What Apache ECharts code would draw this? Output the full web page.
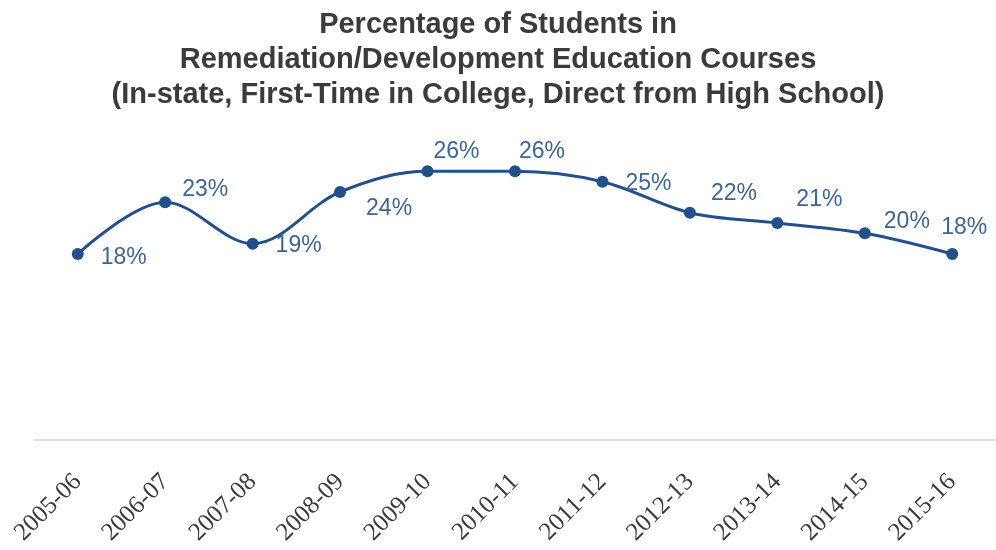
<!DOCTYPE html>
<html>
<head>
<meta charset="utf-8">
<script src="https://cdn.jsdelivr.net/npm/echarts@6/dist/echarts.min.js"></script>
<style>html,body{margin:0;padding:0;background:#fff}#c{width:996px;height:550px}</style>
</head>
<body>
<div id="c"></div>
<script>
const categories = ["2005-06","2006-07","2007-08","2008-09","2009-10","2010-11","2011-12","2012-13","2013-14","2014-15","2015-16"];
const percentValues = [18, 23, 19, 24, 26, 26, 25, 22, 21, 20, 18];
const titleLines = ["Percentage of Students in", "Remediation/Development Education Courses", "(In-state, First-Time in College, Direct from High School)"];
// label placement (styling only)
const labelOffsets = [[46,4],[40,-13],[46,2],[49,17],[29,-20],[27,-20],[46,2],[44,-19],[42,-23],[42,-12],[12,-26]];

const chart = echarts.init(document.getElementById('c'), null, {renderer:'canvas'});
chart.setOption({
  animation: false,
  backgroundColor: '#fff',
  title: {
    text: titleLines.join('\n'),
    left: 'center',
    top: 2,
    textStyle: {fontFamily: 'Liberation Sans', fontWeight: 'bold', fontSize: 29, color: '#3b3b3b', lineHeight: 35}
  },
  grid: {left: 34, top: 130, width: 965, height: 310, containLabel: false},
  xAxis: {
    type: 'category',
    data: categories,
    boundaryGap: true,
    axisLine: {show: true, lineStyle: {color: '#c6d9ec', width: 1.5}},
    axisTick: {show: false},
    axisLabel: {rotate: 45, margin: 38, fontFamily: 'Liberation Serif', fontSize: 25, color: '#3a3a3a', interval: 0}
  },
  yAxis: {type: 'value', min: 0, max: 30, show: false, splitLine: {show: false}},
  series: [{
    type: 'line',
    smooth: 0.35,
    data: percentValues.map((v, i) => ({
      value: v,
      label: {offset: labelOffsets[i]}
    })),
    symbol: 'circle',
    symbolSize: 12,
    lineStyle: {color: '#22508a', width: 3},
    itemStyle: {color: '#22508a'},
    label: {
      show: true,
      position: 'inside',
      formatter: p => p.value + '%',
      fontFamily: 'Liberation Sans',
      fontSize: 23,
      color: '#3f6496'
    }
  }]
});
</script>
</body>
</html>
